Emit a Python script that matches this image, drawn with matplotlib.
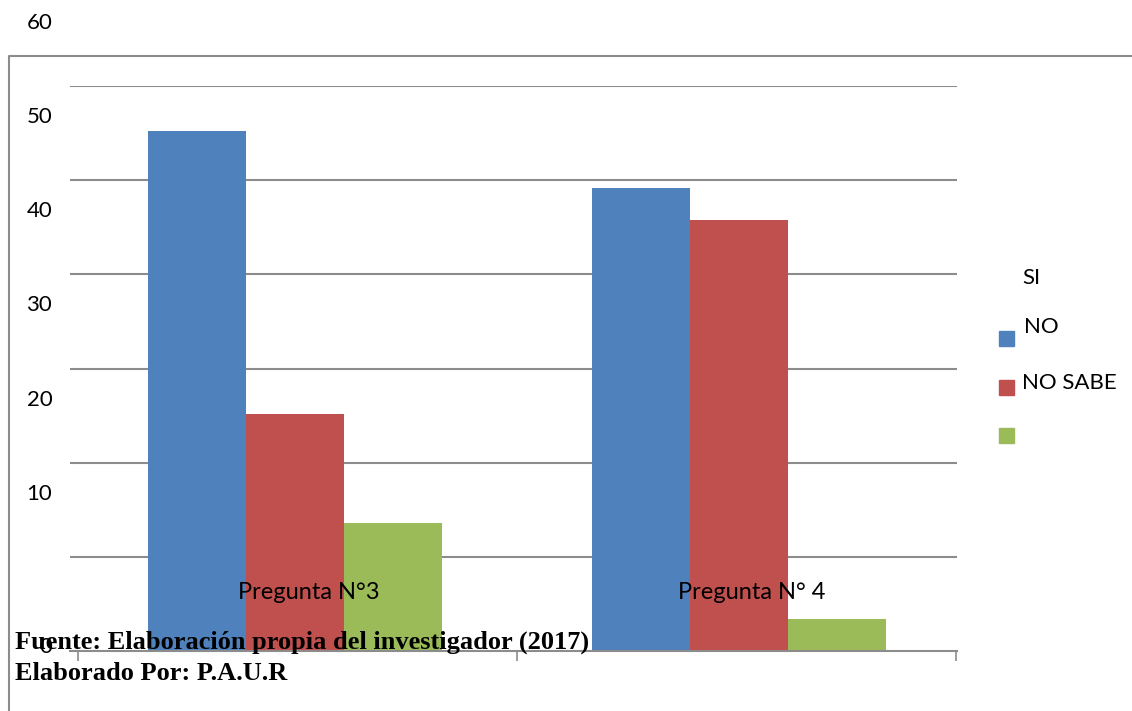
import matplotlib
matplotlib.use("Agg")
import matplotlib.pyplot as plt
from matplotlib.patches import Rectangle
from matplotlib.lines import Line2D

# data
categories = ["Pregunta N°3", "Pregunta N° 4"]
series_names = ["NO", "NO SABE", ""]
si = [55.2, 49.2]
no = [25.2, 45.8]
no_sabe = [13.6, 3.4]
series = [si, no, no_sabe]
colors = ["#4F81BD", "#C0504D", "#9BBB59"]
ytick_values = [0, 10, 20, 30, 40, 50, 60]

W, H = 1132, 711
fig = plt.figure(figsize=(W / 100, H / 100), dpi=100)

def fx(px):
    return px / W

def fy(py):
    return 1 - py / H

# plot area
ax = fig.add_axes([fx(70), fy(651), fx(957) - fx(70), fy(86) - fy(651)])
grey = "#8c8c8c"

bw = 0.221
for i, vals in enumerate(series):
    xs = [c + (i - 1) * bw for c in range(len(categories))]
    ax.bar(xs, vals, width=bw, color=colors[i], zorder=2)

ax.set_xlim(-0.508, 1.492)
ax.set_ylim(0, 60)
for v in ytick_values[1:]:
    ax.axhline(v, color=grey, lw=1.5, zorder=1)

for s in ["top", "right", "left"]:
    ax.spines[s].set_visible(False)
ax.spines["bottom"].set_color(grey)
ax.spines["bottom"].set_linewidth(1.5)
ax.spines["bottom"].set_zorder(3)
ax.set_yticks([])
ax.set_xticks([-0.49, 0.5, 1.49])
ax.set_xticklabels([])
ax.tick_params(axis="x", length=7, width=1.2, color=grey)

lab_font = "Lato"
# y labels sit off their gridlines, as in the source
for v in ytick_values:
    shift = 0.4 if v == 0 else 6.7
    ax.text(-0.02, v + shift, str(v), transform=ax.get_yaxis_transform(),
            ha="right", va="center", fontsize=16, family=lab_font, clip_on=False)

# category names drawn inside the plot
for c, name in enumerate(categories):
    ax.text(c + 0.03, 6.2, name, ha="center", va="center", fontsize=17,
            family=lab_font, zorder=4)

# outer chart frame
fig.add_artist(Line2D([fx(9), fx(9), fx(1132)], [fy(711), fy(56), fy(56)],
                      transform=fig.transFigure, color=grey, lw=1.5))

# legend, drawn by hand because the entries are misaligned
fig.text(fx(1022), fy(278), "SI", fontsize=16, family=lab_font, va="center")
fig.text(fx(1024), fy(327), series_names[0], fontsize=16, family=lab_font, va="center")
fig.text(fx(1022), fy(383), series_names[1], fontsize=16, family=lab_font, va="center")
for py, col in zip([331, 380, 428], colors):
    fig.add_artist(Rectangle((fx(999), fy(py + 15)), fx(15), fy(py) - fy(py + 15),
                             transform=fig.transFigure, color=col))

# source notes
fig.text(fx(15), fy(642), "Fuente: Elaboración propia del investigador (2017)",
         fontsize=19, fontweight="bold", family="Liberation Serif", va="center")
fig.text(fx(15), fy(673), "Elaborado Por: P.A.U.R",
         fontsize=19, fontweight="bold", family="Liberation Serif", va="center")

fig.savefig("out.png", dpi=100)
